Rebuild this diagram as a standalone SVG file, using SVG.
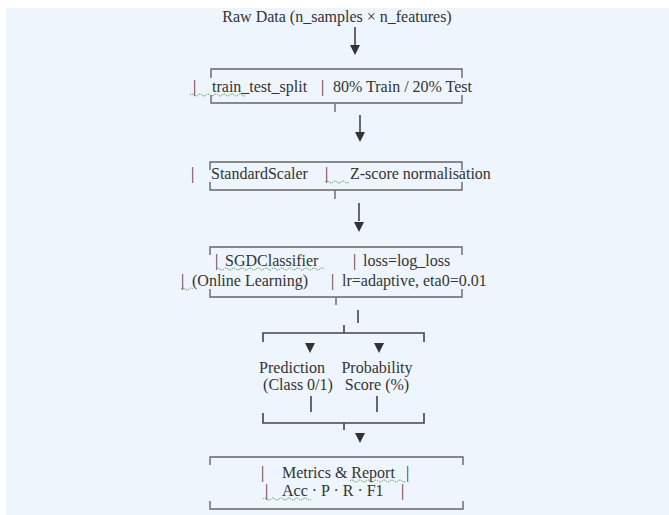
<svg xmlns="http://www.w3.org/2000/svg" width="669" height="515" viewBox="0 0 669 515">
<defs>
<style>
text{font-family:"Liberation Serif","Times New Roman",serif;font-size:16px;fill:#333;}
.br{fill:none;stroke:#666;stroke-width:1.4;}
.ln{fill:none;stroke:#444;stroke-width:1.6;}
.ah{fill:#333;}
.sq{fill:none;stroke:#4a9a4a;stroke-width:1;stroke-dasharray:1.5 1;}
</style>
</defs>
<rect x="0" y="0" width="669" height="515" fill="#ffffff"/>
<rect x="6" y="8" width="663" height="507" fill="#eef5fd"/>

<g id="connectors">
  <line class="ln" x1="355" y1="27" x2="355" y2="45"/>
  <polygon class="ah" points="350,45 360,45 355,55"/>
  <line class="br" x1="335" y1="104" x2="335" y2="112"/>
  <line class="ln" x1="360" y1="115" x2="360" y2="132"/>
  <polygon class="ah" points="355,132 365,132 360,142"/>
  <line class="br" x1="335" y1="190" x2="335" y2="199"/>
  <line class="ln" x1="359" y1="203" x2="359" y2="221"/>
  <polygon class="ah" points="354,222 364,222 359,232"/>
  <line class="br" x1="336" y1="297" x2="336" y2="305"/>
  <line class="ln" x1="358" y1="310" x2="358" y2="323"/>
  <path class="ln" d="M263,342 V333 H424 V342 M344,333 V325"/>
  <polygon class="ah" points="305,343 315,343 310,353"/>
  <polygon class="ah" points="374,343 384,343 379,353"/>
  <line class="ln" x1="311" y1="396" x2="311" y2="412"/>
  <line class="ln" x1="377" y1="396" x2="377" y2="412"/>
  <path class="ln" d="M263,413 V423 H424 V413 M344,423 V430"/>
  <polygon class="ah" points="355,433 365,433 360,443"/>
</g>

<g id="raw-data">
  <text x="337" y="22" text-anchor="middle">Raw Data (n_samples × n_features)</text>
</g>

<g id="split">
  <path class="br" d="M211,78 V69 H462 V78 M211,95 V103 H462 V95"/>
  <text x="193" y="92">|</text>
  <text x="212" y="92">train_test_split</text>
  <text x="321" y="92">|</text>
  <text x="333" y="92">80% Train / 20% Test</text>
  <path class="sq" d="M190,95 q2,-2 4,0 t4,0 t4,0 t4,0 t4,0 t4,0 t4,0 t4,0 t4,0 t4,0 t4,0 t4,0 t4,0 t4,0"/>
</g>

<g id="scaler">
  <path class="br" d="M210,170 V162 H462 V170 M210,182 V190 H462 V182"/>
  <text x="191" y="179">|</text>
  <text x="211" y="179">StandardScaler</text>
  <text x="325" y="179">|</text>
  <text x="350" y="179">Z-score normalisation</text>
  <path class="sq" d="M325,182 q2,-2 4,0 t4,0 t4,0 t4,0 t4,0 t4,0"/>
</g>

<g id="sgd">
  <path class="br" d="M210,255 V247 H462 V255 M210,289 V297 H462 V289"/>
  <text x="215" y="266">|</text>
  <text x="225" y="266">SGDClassifier</text>
  <text x="353" y="266">|</text>
  <text x="363" y="266">loss=log_loss</text>
  <text x="181" y="286">|</text>
  <text x="192" y="286">(Online Learning)</text>
  <text x="331" y="286">|</text>
  <text x="342" y="286">lr=adaptive, eta0=0.01</text>
  <path class="sq" d="M216,269 q2,-2 4,0 t4,0 t4,0 t4,0 t4,0 t4,0 t4,0 t4,0 t4,0 t4,0 t4,0 t4,0 t4,0 t4,0 t4,0 t4,0 t4,0 t4,0 t4,0 t4,0 t4,0 t4,0 t4,0 t4,0 t4,0 t4,0 t4,0"/>
  <path class="sq" d="M181,289 q2,-2 4,0 t4,0 t4,0"/>
</g>

<g id="prediction">
  <text x="292" y="373" text-anchor="middle">Prediction</text>
  <text x="298" y="390" text-anchor="middle">(Class 0/1)</text>
</g>

<g id="probability">
  <text x="377" y="373" text-anchor="middle">Probability</text>
  <text x="377" y="390" text-anchor="middle">Score (%)</text>
</g>

<g id="metrics">
  <path class="br" d="M210,465 V457 H463 V465 M210,501 V509 H463 V501"/>
  <text x="261" y="478">|</text>
  <text x="282" y="478">Metrics &amp; Report</text>
  <text x="406" y="478">|</text>
  <text x="265" y="496">|</text>
  <text x="282" y="496">Acc · P · R · F1</text>
  <text x="401" y="496">|</text>
  <path class="sq" d="M350,481 q2,-2 4,0 t4,0 t4,0 t4,0 t4,0 t4,0 t4,0 t4,0 t4,0 t4,0 t4,0 t4,0 t4,0 t4,0"/>
  <path class="sq" d="M263,499 q2,-2 4,0 t4,0 t4,0 t4,0 t4,0 t4,0 t4,0 t4,0 t4,0 t4,0 t4,0 t4,0"/>
</g>
</svg>
